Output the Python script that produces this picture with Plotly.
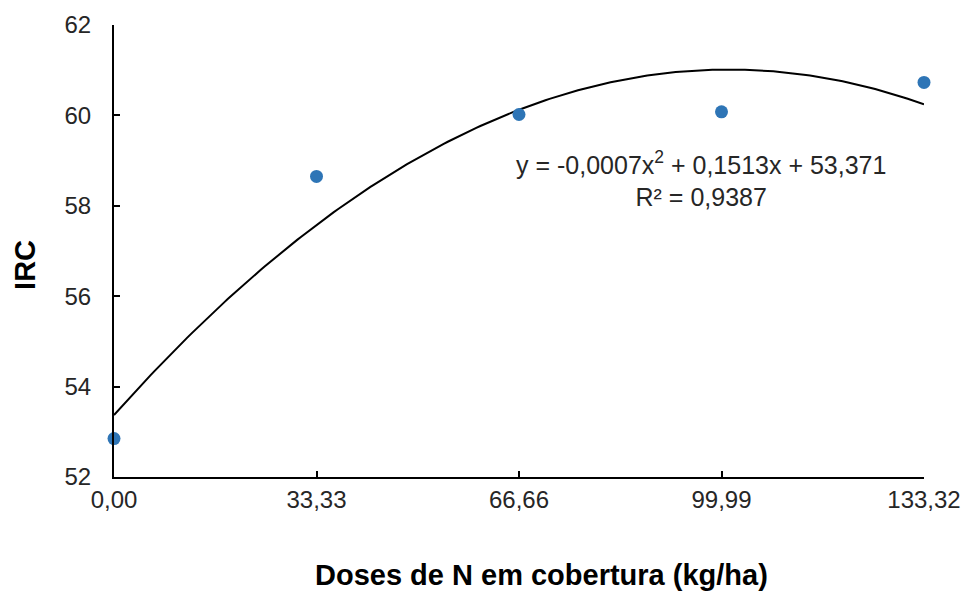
import numpy as np
import plotly.graph_objects as go

doses = [0.00, 33.33, 66.66, 99.99, 133.32]
tick_labels = ["0,00", "33,33", "66,66", "99,99", "133,32"]
irc = [52.85, 58.65, 60.02, 60.08, 60.73]
y_ticks = [52, 54, 56, 58, 60, 62]

coef = np.polyfit(doses, irc, 2)
xs = np.linspace(0, 133.32, 200)
ys = np.polyval(coef, xs)

fig = go.Figure()
fig.add_trace(go.Scatter(x=xs, y=ys, mode="lines",
                         line=dict(color="black", width=2), hoverinfo="skip"))
fig.add_trace(go.Scatter(x=doses, y=irc, mode="markers", cliponaxis=False,
                         marker=dict(color="#2E75B6", size=13)))

fig.add_annotation(x=0.725, y=0.659, xref="paper", yref="paper",
                   xanchor="center", yanchor="middle",
                   text="y = -0,0007x<sup>2</sup> + 0,1513x + 53,371<br>R² = 0,9387",
                   showarrow=False, align="center",
                   font=dict(family="Arial, Liberation Sans", size=25, color="#262626"))

# axis titles
fig.add_annotation(x=0.528, y=-0.217, xref="paper", yref="paper",
                   xanchor="center", yanchor="middle", showarrow=False,
                   text="<b>Doses de N em cobertura (kg/ha)</b>",
                   font=dict(family="Arial, Liberation Sans", size=29, color="black"))
fig.add_annotation(x=-0.110, y=0.469, xref="paper", yref="paper",
                   xanchor="center", yanchor="middle", showarrow=False, textangle=-90,
                   text="<b>IRC</b>",
                   font=dict(family="Arial, Liberation Sans", size=29, color="black"))

fig.update_layout(
    width=965, height=593,
    margin=dict(l=114, r=41, t=25, b=116),
    paper_bgcolor="white", plot_bgcolor="white",
    showlegend=False,
    font=dict(family="Arial, Liberation Sans", size=24, color="#262626"),
)
fig.update_xaxes(range=[0, 133.32], tickvals=doses, ticktext=tick_labels,
                 showgrid=False, zeroline=False, showline=True, linecolor="black",
                 linewidth=2, ticks="inside", ticklen=6, tickwidth=2, tickcolor="black",
                 tickfont=dict(size=24), automargin=False)
fig.update_yaxes(range=[52, 62], tickvals=y_ticks,
                 showgrid=False, zeroline=False, showline=True, linecolor="black",
                 linewidth=2, ticks="inside", ticklen=6, tickwidth=2, tickcolor="black",
                 tickfont=dict(size=24), ticklabelstandoff=16, automargin=False)

fig.write_html("out.html")
